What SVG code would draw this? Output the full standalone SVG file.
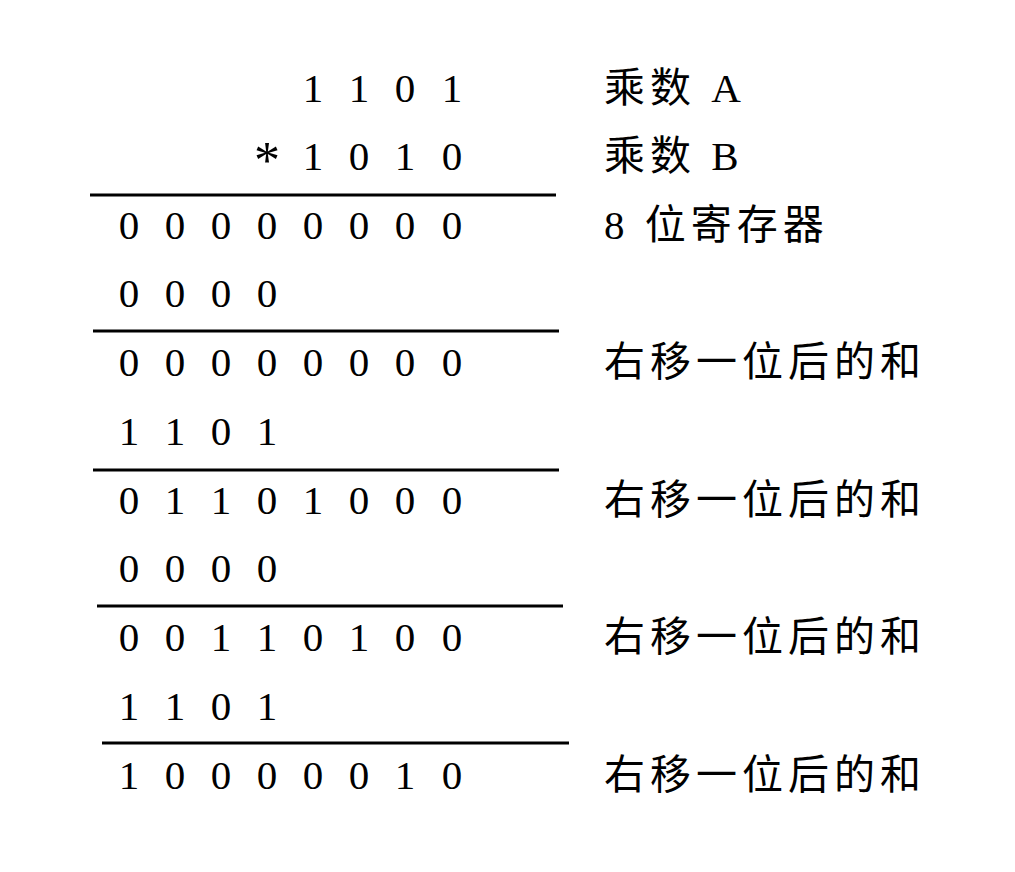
<svg xmlns="http://www.w3.org/2000/svg" width="1015" height="872" viewBox="0 0 1015 872">
<style>
.d{font-family:"Liberation Serif","Noto Sans CJK SC",serif;font-size:41px;text-anchor:middle;fill:#000}
.l{font-family:"Liberation Serif","Noto Sans CJK SC",serif;font-size:41px;letter-spacing:5px;fill:#000}
line{stroke:#000;stroke-width:3}
</style>
<rect width="1015" height="872" fill="#fff"/>
<g class="d">
<text x="313" y="102">1</text><text x="359" y="102">1</text><text x="405" y="102">0</text><text x="452" y="102">1</text>
<text x="267" y="178" font-size="52">*</text><text x="313" y="170">1</text><text x="359" y="170">0</text><text x="405" y="170">1</text><text x="452" y="170">0</text>
<text x="129" y="239">0</text><text x="175" y="239">0</text><text x="221" y="239">0</text><text x="267" y="239">0</text><text x="313" y="239">0</text><text x="359" y="239">0</text><text x="405" y="239">0</text><text x="452" y="239">0</text>
<text x="129" y="307">0</text><text x="175" y="307">0</text><text x="221" y="307">0</text><text x="267" y="307">0</text>
<text x="129" y="376">0</text><text x="175" y="376">0</text><text x="221" y="376">0</text><text x="267" y="376">0</text><text x="313" y="376">0</text><text x="359" y="376">0</text><text x="405" y="376">0</text><text x="452" y="376">0</text>
<text x="129" y="445">1</text><text x="175" y="445">1</text><text x="221" y="445">0</text><text x="267" y="445">1</text>
<text x="129" y="514">0</text><text x="175" y="514">1</text><text x="221" y="514">1</text><text x="267" y="514">0</text><text x="313" y="514">1</text><text x="359" y="514">0</text><text x="405" y="514">0</text><text x="452" y="514">0</text>
<text x="129" y="582">0</text><text x="175" y="582">0</text><text x="221" y="582">0</text><text x="267" y="582">0</text>
<text x="129" y="651">0</text><text x="175" y="651">0</text><text x="221" y="651">1</text><text x="267" y="651">1</text><text x="313" y="651">0</text><text x="359" y="651">1</text><text x="405" y="651">0</text><text x="452" y="651">0</text>
<text x="129" y="720">1</text><text x="175" y="720">1</text><text x="221" y="720">0</text><text x="267" y="720">1</text>
<text x="129" y="789">1</text><text x="175" y="789">0</text><text x="221" y="789">0</text><text x="267" y="789">0</text><text x="313" y="789">0</text><text x="359" y="789">0</text><text x="405" y="789">1</text><text x="452" y="789">0</text>
</g>
<g class="l">
<text x="604" y="102">乘数 A</text>
<text x="604" y="170">乘数 B</text>
<text x="604" y="239">8 位寄存器</text>
<text x="604" y="376">右移一位后的和</text>
<text x="604" y="514">右移一位后的和</text>
<text x="604" y="651">右移一位后的和</text>
<text x="604" y="789">右移一位后的和</text>
</g>
<g>
<line x1="90" y1="195" x2="556" y2="195"/>
<line x1="93" y1="331" x2="559" y2="331"/>
<line x1="93" y1="470" x2="559" y2="470"/>
<line x1="97" y1="606" x2="563" y2="606"/>
<line x1="102" y1="743" x2="569" y2="743"/>
</g>
</svg>
